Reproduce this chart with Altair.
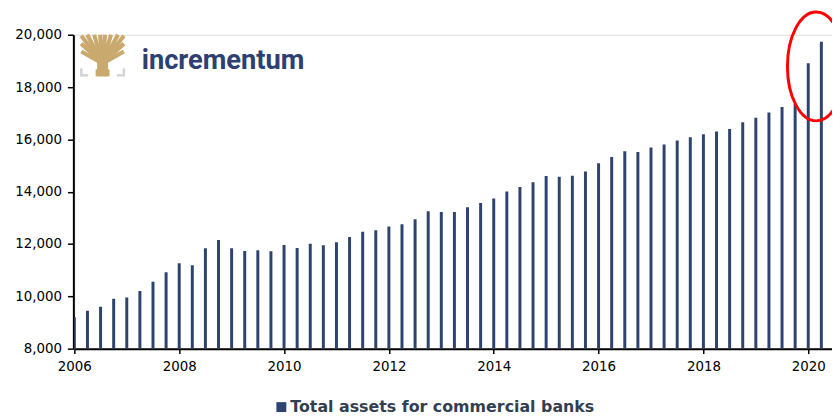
import altair as alt
import pandas as pd

# Total assets for commercial banks (USD bn), quarterly, 2006 Q1 - 2020 Q2
start_year = 2006
values = [
    9200, 9450, 9600, 9905,
    9955, 10205, 10560, 10925,
    11265, 11190, 11835, 12150,
    11835, 11735, 11760, 11720,
    11960, 11850, 12010, 11950,
    12065, 12265, 12465, 12530,
    12670, 12755, 12945, 13250,
    13225, 13225, 13410, 13565,
    13740, 14005, 14180, 14360,
    14600, 14575, 14610, 14775,
    15090, 15330, 15545, 15520,
    15685, 15800, 15960, 16085,
    16200, 16300, 16400, 16655,
    16830, 17030, 17235, 17350,
    18910, 19730,
]
quarters = [f"{start_year + i // 4}-Q{i % 4 + 1}" for i in range(len(values))]
xpos = [start_year + i * 0.25 for i in range(len(values))]
series_name = "Total assets for commercial banks"
y_ticks = [8000, 10000, 12000, 14000, 16000, 18000, 20000]
x_ticks = [2006, 2008, 2010, 2012, 2014, 2016, 2018, 2020]

df = pd.DataFrame({"quarter": quarters, "t": xpos, "assets": values, "series": series_name})

W, H = 765, 317
NAVY = "#2e4470"
GOLD = "#c9a96e"
GREY = "#d5d5d5"
FONT = "DejaVu Sans"

bars = alt.Chart(df).mark_bar(size=3, clip=True).encode(
    x=alt.X("t:Q", scale=alt.Scale(domain=[2006, 2020.453], nice=False, zero=False, padding=0),
            axis=alt.Axis(values=x_ticks, format="d", title=None, grid=False,
                          labelFont=FONT, labelFontSize=13.5, labelColor="black",
                          tickColor="black", tickSize=5, tickWidth=1.5, domainColor="black",
                          domainWidth=2, labelPadding=6, labelFlush=False)),
    y=alt.Y("assets:Q", scale=alt.Scale(domain=[8000, 20000], nice=False, zero=False),
            axis=alt.Axis(values=y_ticks, format=",.0f", title=None, grid=False, offset=1,
                          labelFont=FONT, labelFontSize=13.5, labelColor="black",
                          tickColor="black", tickSize=6, tickWidth=1.5, domainColor="black",
                          domainWidth=2, labelPadding=6)),
    y2=alt.datum(8000),
    color=alt.Color("series:N", scale=alt.Scale(range=[NAVY]),
                    legend=alt.Legend(orient="none", legendX=201, legendY=368,
                                      title=None, symbolType="square", symbolSize=100,
                                      symbolStrokeWidth=0, padding=0, labelOffset=1,
                                      labelLimit=0,
                                      labelFont=FONT, labelFontSize=16,
                                      labelFontWeight="bold", labelColor="#333f50")),
)

one = pd.DataFrame({"k": [0]})
OX, OY = 75, 33  # plot origin in page pixels


def rule(x1, y1, x2, y2, color, width):
    return alt.Chart(one).mark_rule(color=color, strokeWidth=width, strokeCap="butt").encode(
        x=alt.value(x1 - OX), y=alt.value(y1 - OY), x2=alt.value(x2 - OX), y2=alt.value(y2 - OY))


logo_layers = []
# crown branches
for (tx, ty) in [(82, 34), (88, 33), (95, 33), (101, 33), (106, 33), (112, 33), (119, 33), (125, 34),
                 (82, 42), (125, 42), (82, 50), (125, 50)]:
    logo_layers.append(rule(103.5, 62, tx, ty, GOLD, 4.2))
# trunk
logo_layers.append(alt.Chart(one).mark_rect(color=GOLD).encode(
    x=alt.value(98 - OX), x2=alt.value(109 - OX), y=alt.value(55 - OY), y2=alt.value(75 - OY)))
logo_layers.append(alt.Chart(one).mark_rect(color=GOLD).encode(
    x=alt.value(96.5 - OX), x2=alt.value(110.5 - OX), y=alt.value(68 - OY), y2=alt.value(75 - OY)))
# grey brackets
logo_layers += [
    rule(82, 67, 82, 75, GREY, 2.5), rule(81, 74, 89, 74, GREY, 2.5),
    rule(125, 67, 125, 75, GREY, 2.5), rule(118, 74, 126, 74, GREY, 2.5),
]
logo_text = alt.Chart(one).mark_text(
    text="incrementum", font="Roboto", fontWeight="bold", fontSize=27.5, color="#2d4170",
    align="left", baseline="alphabetic").encode(x=alt.value(143 - OX), y=alt.value(68 - OY))

ellipse = alt.Chart(one).mark_point(
    shape="M -0.527,0 A 0.527,1 0 1,0 0.527,0 A 0.527,1 0 1,0 -0.527,0 Z",
    size=110 * 110, filled=False, color="#ff0000", strokeWidth=3, opacity=1).encode(
    x=alt.value(824 - OX), y=alt.value(65 - OY))

chart = alt.layer(bars, *logo_layers, logo_text, ellipse).properties(
    width=W, height=H,
    autosize=alt.AutoSizeParams(type="none"),
    padding={"left": 67, "top": 25, "right": 0, "bottom": 66},
).configure_view(stroke=None).configure(background="white")

chart.save("out.html", embed_options={"renderer": "svg", "actions": False})
